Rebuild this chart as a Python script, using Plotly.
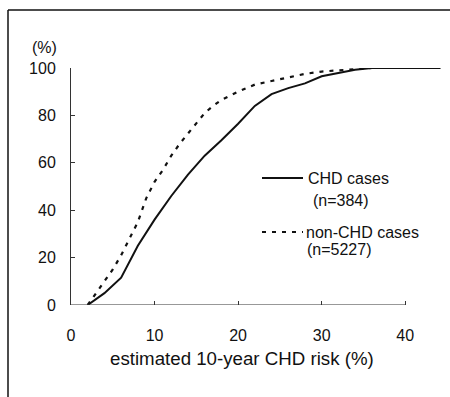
import plotly.graph_objects as go

chd_x = [2, 4, 6, 8, 10, 12, 14, 16, 18, 20, 22, 24, 26, 28, 30, 32, 34, 36, 38, 40, 42, 44.2]
chd_y = [0, 5, 11.5, 25, 36, 46, 55, 63, 69.5, 76.5, 84, 89, 91.5, 93.5, 96.5, 98, 99.3, 100, 100, 100, 100, 100]

non_x = [2, 3, 4, 5, 6, 7, 8, 9, 10, 11, 12, 13, 14, 15, 16, 17, 18, 20, 22, 24, 26, 28, 30, 32, 34, 36, 40, 44.2]
non_y = [0, 5, 10, 15, 21, 28, 35, 45, 52, 57, 63, 68, 72.5, 77, 81, 84, 86.5, 90, 93, 94.5, 96, 97.5, 98.5, 99, 99.7, 100, 100, 100]

x_ticks = [0, 10, 20, 30, 40]
y_ticks = [0, 20, 40, 60, 80, 100]
x_title = "estimated 10-year CHD risk (%)"

FONT = "Liberation Sans, Arial, sans-serif"

fig = go.Figure()
fig.add_trace(go.Scatter(x=chd_x, y=chd_y, mode="lines", line=dict(color="#111", width=2),
                         showlegend=False, cliponaxis=False))
fig.add_trace(go.Scatter(x=non_x, y=non_y, mode="lines", line=dict(color="#111", width=2.2, dash="4px,6px"),
                         showlegend=False, cliponaxis=False))

fig.update_layout(
    width=450, height=397,
    margin=dict(l=71, r=3, t=68, b=92),
    paper_bgcolor="white", plot_bgcolor="white",
    font=dict(family=FONT, size=16, color="#111"),
    xaxis=dict(range=[0, 45], tickvals=x_ticks, showgrid=False, zeroline=False, showline=False,
               ticks="inside", ticklen=4, tickcolor="#333", tickfont=dict(size=16),
               ticklabelstandoff=19),
    yaxis=dict(range=[0, 100], tickvals=y_ticks, showgrid=False, zeroline=False, showline=True,
               linecolor="#333", linewidth=1, ticks="inside", ticklen=4, tickcolor="#333",
               tickfont=dict(size=16), ticklabelstandoff=11),
)

# x axis line only from 0 to 40
fig.add_shape(type="line", x0=0, x1=40, y0=0, y1=0, xref="x", yref="y",
              line=dict(color="#333", width=1.2))

# frame lines (left and top)
fig.add_shape(type="line", xref="paper", yref="paper", x0=-63/376, x1=-63/376, y0=-92/237, y1=(397-10-92)/237,
              line=dict(color="#111", width=1.5))
fig.add_shape(type="line", xref="paper", yref="paper", x0=-63/376, x1=1.05, y0=(397-10-92)/237, y1=(397-10-92)/237,
              line=dict(color="#111", width=1.5))

def lx(px):
    return (px - 71) / 376

def ly(py):
    return (305 - py) / 237

# (%) label
fig.add_annotation(x=lx(44), y=ly(48), xref="paper", yref="paper", text="(%)",
                   showarrow=False, font=dict(size=16), xanchor="center", yanchor="middle")

# x axis title
fig.add_annotation(x=lx(242), y=ly(358), xref="paper", yref="paper", text=x_title,
                   showarrow=False, font=dict(size=18.7), xanchor="center", yanchor="middle")

# legend drawn manually
fig.add_shape(type="line", xref="paper", yref="paper", x0=lx(262), x1=lx(303), y0=ly(178), y1=ly(178),
              line=dict(color="#111", width=2))
fig.add_annotation(x=lx(306), y=ly(178), xref="paper", yref="paper", text="CHD cases",
                   showarrow=False, font=dict(size=16), xanchor="left", yanchor="middle")
fig.add_annotation(x=lx(341), y=ly(200), xref="paper", yref="paper", text="(n=384)",
                   showarrow=False, font=dict(size=16), xanchor="center", yanchor="middle")
fig.add_shape(type="line", xref="paper", yref="paper", x0=lx(262), x1=lx(303), y0=ly(232), y1=ly(232),
              line=dict(color="#111", width=2.2, dash="4px,6px"))
fig.add_annotation(x=lx(304), y=ly(232), xref="paper", yref="paper", text="non-CHD cases",
                   showarrow=False, font=dict(size=16), xanchor="left", yanchor="middle")
fig.add_annotation(x=lx(339), y=ly(249), xref="paper", yref="paper", text="(n=5227)",
                   showarrow=False, font=dict(size=16), xanchor="center", yanchor="middle")

fig.write_html("out.html")
